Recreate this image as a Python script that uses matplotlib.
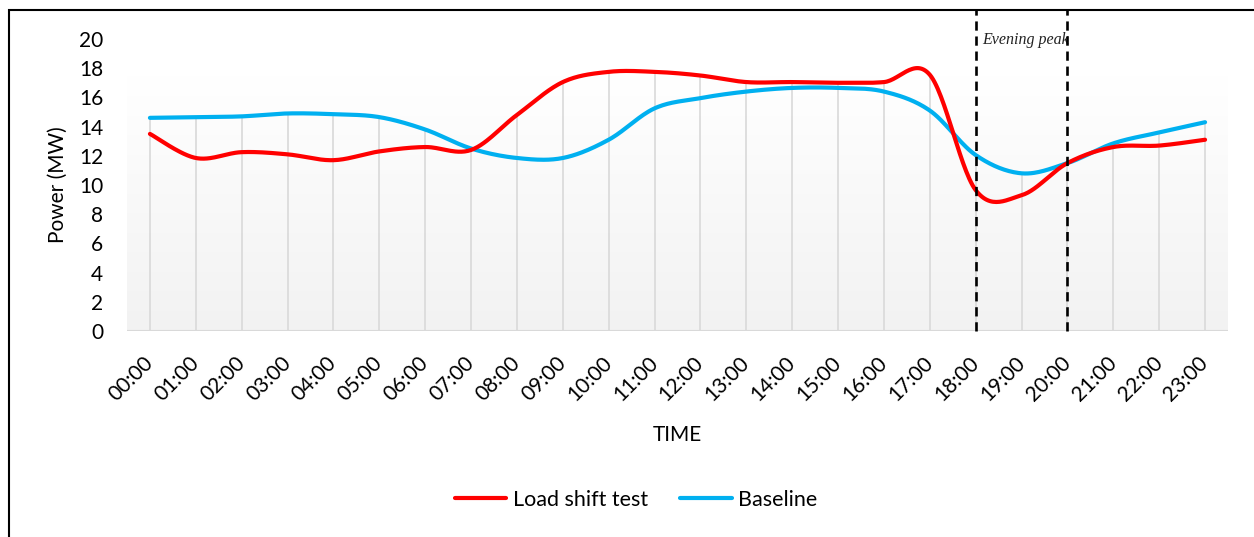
"""
Load shift test vs baseline power profile, Excel-style smoothed lines.
"""

import numpy as np
import matplotlib

matplotlib.use("Agg")
import matplotlib.pyplot as plt
from matplotlib.patches import Rectangle
from matplotlib.colors import LinearSegmentedColormap

hours = [f"{h:02d}:00" for h in range(24)]
load_shift = [13.5, 11.85, 12.25, 12.1, 11.7, 12.3, 12.6, 12.4, 14.8, 17.05,
              17.75, 17.75, 17.5, 17.05, 17.05, 17.0, 17.05, 17.55, 9.65, 9.3,
              11.5, 12.6, 12.7, 13.1]
baseline = [14.6, 14.65, 14.7, 14.9, 14.85, 14.65, 13.8, 12.5, 11.85, 11.85,
            13.1, 15.25, 15.95, 16.4, 16.65, 16.65, 16.4, 15.1, 12.05, 10.8,
            11.5, 12.85, 13.6, 14.3]
peak_start, peak_end = 18, 20

FONT = ["Lato", "DejaVu Sans"]


def smooth(x, y, n=30):
    """Courbe lissée type Excel (Bezier Catmull-Rom) passant par les points."""
    x = np.asarray(x, float)
    y = np.asarray(y, float)
    px = np.concatenate([[x[0]], x, [x[-1]]])
    py = np.concatenate([[y[0]], y, [y[-1]]])
    t = np.linspace(0, 1, n)[:, None]
    xs, ys = [], []
    for i in range(1, len(x)):
        p0 = np.array([px[i], py[i]])
        p3 = np.array([px[i + 1], py[i + 1]])
        c1 = p0 + (p3 - np.array([px[i - 1], py[i - 1]])) / 6
        c2 = p3 - (np.array([px[i + 2], py[i + 2]]) - p0) / 6
        seg = ((1 - t) ** 3) * p0 + 3 * ((1 - t) ** 2) * t * c1 \
            + 3 * (1 - t) * t ** 2 * c2 + t ** 3 * p3
        xs.append(seg[:, 0])
        ys.append(seg[:, 1])
    return np.concatenate(xs), np.concatenate(ys)


fig = plt.figure(figsize=(12.54, 5.37), dpi=100, facecolor="white")
ax = fig.add_axes([127 / 1254, 1 - 331 / 537, (1228 - 127) / 1254, (331 - 39) / 537])
ax.set_facecolor("white")

xpos = np.arange(len(hours))
ax.set_xlim(-0.5, len(hours) - 0.5)
ax.set_ylim(0, 20)

# fond en dégradé
grad = LinearSegmentedColormap.from_list("g", ["#f2f2f2", "#ffffff"])
ax.imshow(np.linspace(0, 1, 256)[:, None], cmap=grad, aspect="auto",
          origin="lower", extent=(-0.5, len(hours) - 0.5, 0, 17.4), zorder=0)

# lignes de projection (du max des séries jusqu'à l'axe)
ax.vlines(xpos, 0, np.maximum(load_shift, baseline), color="#d9d9d9",
          linewidth=1.2, zorder=1)
ax.axhline(0, color="#d9d9d9", linewidth=1.5, zorder=1)

sx, sy = smooth(xpos, load_shift)
ax.plot(sx, sy, color="#ff0000", linewidth=3, solid_capstyle="round",
        label="Load shift test", zorder=4)
bx, by = smooth(xpos, baseline)
ax.plot(bx, by, color="#00b0f0", linewidth=3, solid_capstyle="round",
        label="Baseline", zorder=3)

for xv in (peak_start, peak_end):
    ax.plot([xv, xv], [0, 22], color="black", linewidth=1.9,
            linestyle=(0, (3.5, 2.2)), clip_on=False, zorder=5)
ax.text(peak_start + 0.14, 19.65, "Evening peak", fontsize=11.5,
        family=["Liberation Serif", "DejaVu Serif"], style="italic",
        color="#222222", va="baseline", ha="left", clip_on=False)

for spine in ax.spines.values():
    spine.set_visible(False)

ax.set_yticks(np.arange(0, 21, 2))
ax.set_yticklabels([str(v) for v in range(0, 21, 2)], fontsize=15, family=FONT)
ax.set_xticks(xpos)
ax.set_xticklabels(hours, fontsize=15, family=FONT, rotation=45,
                   ha="right", va="center", rotation_mode="anchor")
ax.tick_params(axis="y", length=0, pad=17)
ax.tick_params(axis="x", length=0, pad=21)

ax.set_ylabel("Power (MW)", fontsize=15, family=FONT, labelpad=8)
ax.set_xlabel("TIME", fontsize=15, family=FONT, labelpad=14)

ax.legend(loc="center", bbox_to_anchor=(636 / 1254, 1 - 500 / 537),
          bbox_transform=fig.transFigure, ncol=2, frameon=False,
          prop={"family": FONT, "size": 15.5}, handlelength=2.4,
          columnspacing=1.5, handletextpad=0.3)

# cadre de la figure
fig.patches.append(Rectangle((9 / 1254, -0.1), 1.2, 1.1 - 10 / 537,
                             transform=fig.transFigure, fill=False,
                             edgecolor="black", linewidth=1.5, clip_on=False))

fig.savefig("out.png", dpi=100, facecolor="white")
